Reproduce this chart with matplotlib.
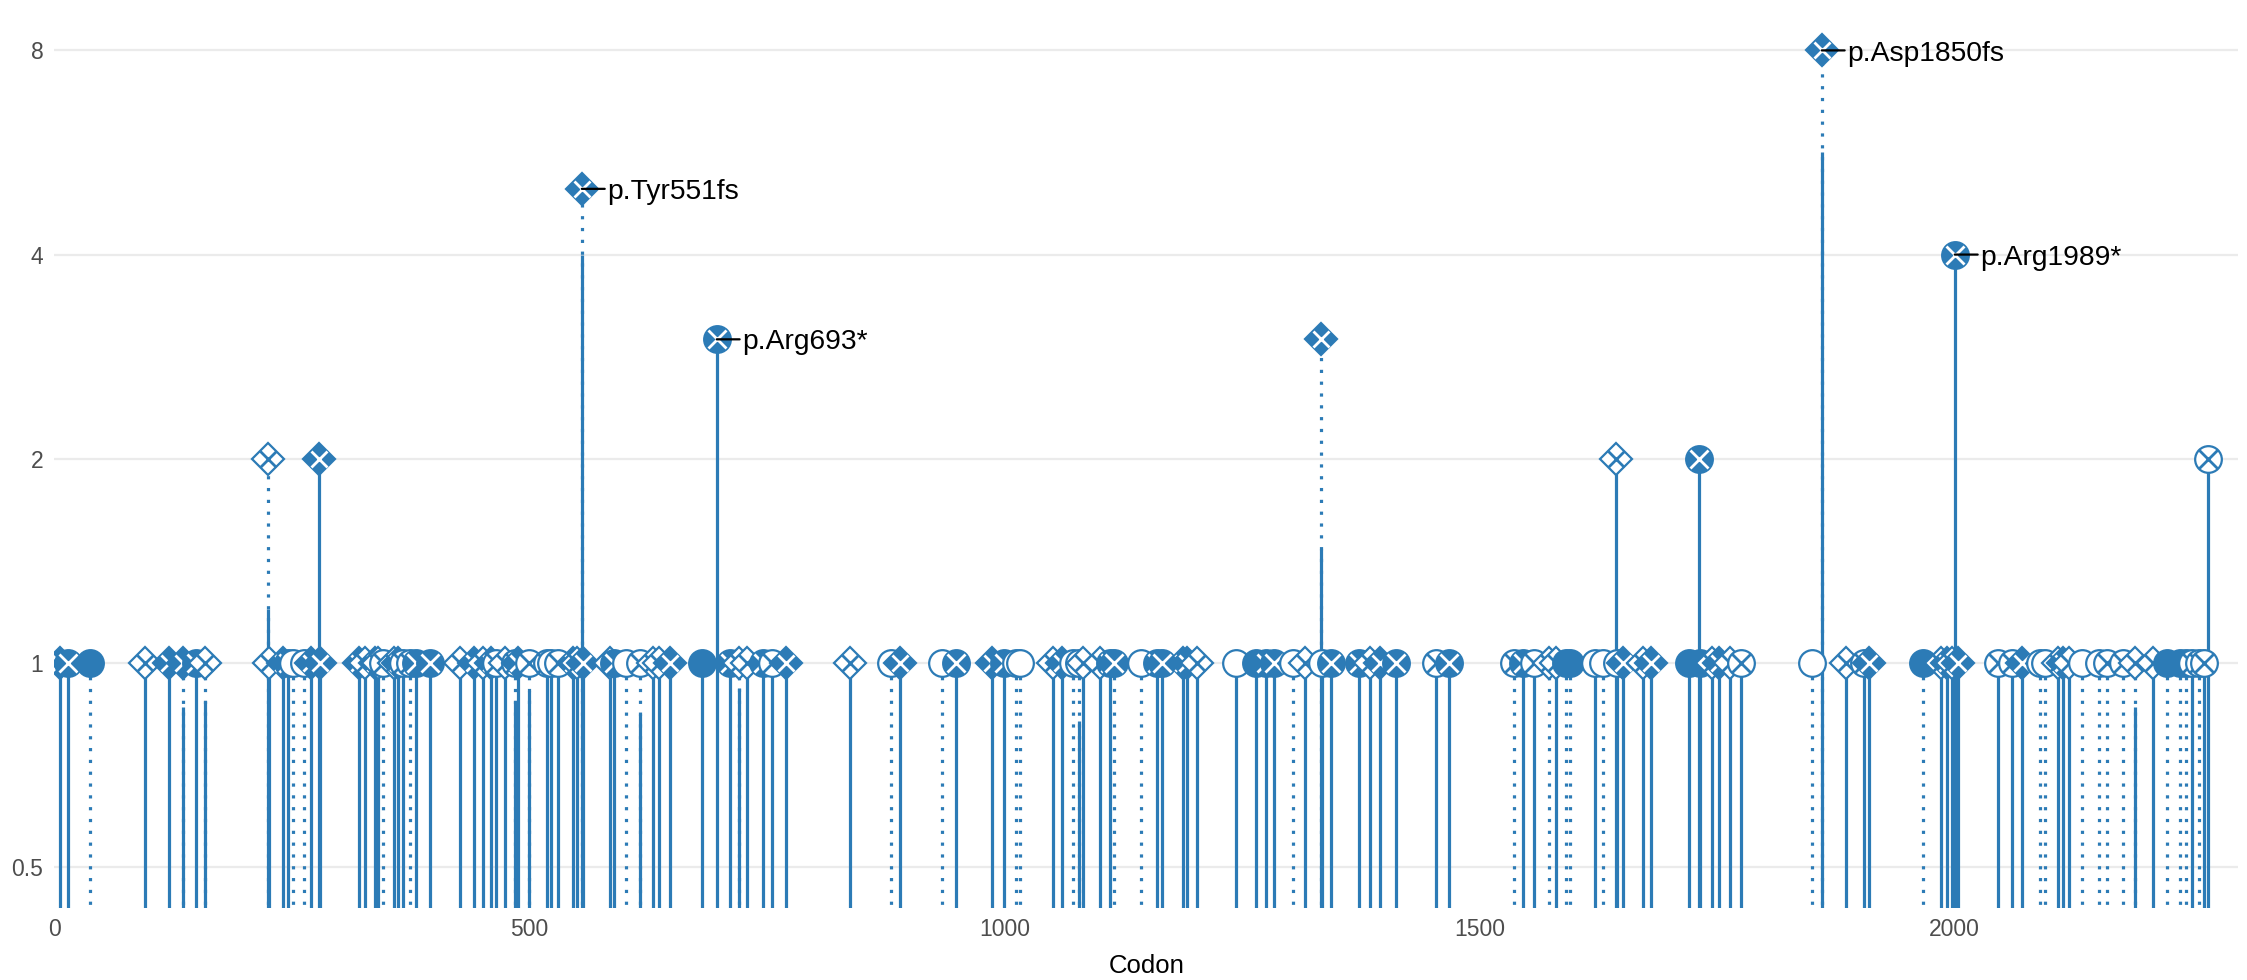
import matplotlib.pyplot as plt
from matplotlib.ticker import NullLocator

plt.rcParams['font.family'] = ['Liberation Sans', 'DejaVu Sans']

# mutations: codon position, count (log2 axis) and marker kind
# kind: DF/DO = filled/open diamond with cross, CF/CO = filled/open circle with cross,
#       cf/co = plain filled/open circle
codon = [6, 14, 37, 95, 120, 135, 149, 158,
         225, 226, 240, 246, 251, 263, 270, 278, 279,
         320, 327, 337, 341, 346, 357, 362, 367, 374, 381, 395,
         427, 442, 451, 459, 465, 474, 485, 488, 499, 518, 523, 530, 546, 550, 556, 555,
         585, 589, 602, 616, 630, 636, 648,
         681, 711, 720, 729, 746, 755, 770, 697,
         837, 880, 890, 934, 949, 987, 999, 1012, 1016, 1051, 1060, 1072, 1078, 1083, 1100, 1111, 1115,
         1144, 1160, 1166, 1188, 1192, 1202, 1244, 1265, 1275, 1283, 1303, 1316, 1334, 1343,
         1373, 1385, 1395, 1412, 1454, 1468, 1333,
         1536, 1546, 1557, 1573, 1580, 1591, 1595, 1621, 1630, 1644, 1651, 1672, 1680,
         1720, 1732, 1744, 1752, 1763, 1775, 1850, 1886, 1643, 1731, 1860,
         1905, 1910, 1967, 1985, 1992, 1997, 2003, 2046, 2060, 2071, 2090, 2095, 2109, 2114, 2120,
         2134, 2152, 2160, 2177, 2190, 2209, 2223, 2237, 2243, 2250, 2257, 2262, 2000, 2267]
count = [1, 1, 1, 1, 1, 1, 1, 1,
         2, 1, 1, 1, 1, 1, 1, 2, 1,
         1, 1, 1, 1, 1, 1, 1, 1, 1, 1, 1,
         1, 1, 1, 1, 1, 1, 1, 1, 1, 1, 1, 1, 1, 1, 1, 5,
         1, 1, 1, 1, 1, 1, 1,
         1, 1, 1, 1, 1, 1, 1, 3,
         1, 1, 1, 1, 1, 1, 1, 1, 1, 1, 1, 1, 1, 1, 1, 1, 1,
         1, 1, 1, 1, 1, 1, 1, 1, 1, 1, 1, 1, 1, 1,
         1, 1, 1, 1, 1, 1, 3,
         1, 1, 1, 1, 1, 1, 1, 1, 1, 1, 1, 1, 1,
         1, 1, 1, 1, 1, 1, 1, 1, 2, 2, 8,
         1, 1, 1, 1, 1, 1, 1, 1, 1, 1, 1, 1, 1, 1, 1,
         1, 1, 1, 1, 1, 1, 1, 1, 1, 1, 1, 1, 4, 2]
kind = ['DF', 'CF', 'cf', 'DO', 'DF', 'DF', 'CF', 'DO',
        'DO', 'DO', 'DF', 'CF', 'co', 'co', 'DF', 'DF', 'DF',
        'DF', 'DO', 'DF', 'DO', 'CO', 'DO', 'DF', 'CO', 'CO', 'CF', 'CF',
        'DO', 'DF', 'DO', 'DF', 'CO', 'DO', 'CO', 'DF', 'CO', 'CO', 'co', 'CO', 'DF', 'DO', 'DF', 'DF',
        'DO', 'CF', 'co', 'CO', 'DO', 'DO', 'DF',
        'cf', 'CF', 'DO', 'DO', 'CF', 'CO', 'DF', 'CF',
        'DO', 'co', 'DF', 'co', 'CF', 'DF', 'CF', 'co', 'co', 'DO', 'DF', 'co', 'co', 'DO', 'DO', 'CF', 'CF',
        'co', 'CF', 'CF', 'DF', 'DF', 'DO', 'co', 'cf', 'CF', 'CF', 'co', 'DO', 'co', 'CF',
        'CF', 'DO', 'DF', 'CF', 'CO', 'CF', 'DF',
        'CO', 'CF', 'CO', 'DO', 'DO', 'cf', 'cf', 'co', 'co', 'co', 'DF', 'DO', 'DF',
        'cf', 'cf', 'DO', 'DF', 'DO', 'CO', 'co', 'DO', 'DO', 'CF', 'DF',
        'CO', 'DF', 'cf', 'DO', 'DF', 'DO', 'DF', 'CO', 'CO', 'DF', 'co', 'co', 'DO', 'DF', 'DO',
        'co', 'co', 'CO', 'CO', 'DO', 'DO', 'cf', 'cf', 'cf', 'CO', 'CO', 'CO', 'CF', 'CO']
# where the solid part of the stem stops (above it the stem is dotted, 0 = dotted all the way)
solid_to = [1, 1, 0, 1, 1, 0.86, 1, 0.88,
            1.2, 1, 1, 1, 0, 0, 1, 2, 1,
            1, 1, 1, 1, 0, 1, 1, 1, 0, 1, 1,
            1, 1, 1, 1, 1, 1, 0.88, 1, 0.91, 1, 1, 1, 1, 1, 1, 4,
            1, 1, 0, 0.84, 1, 1, 1,
            1, 1, 0.92, 1, 1, 1, 1, 3,
            1, 0, 1, 0, 1, 1, 1, 0, 0, 1, 1, 0, 0.82, 1, 1, 1, 0,
            0, 1, 1, 1, 1, 1, 1, 1, 1, 1, 0, 1, 1, 1,
            1, 1, 1, 1, 1, 1, 1.47,
            0, 1, 1, 0, 1, 0, 0, 1, 0, 1, 1, 1, 1,
            1, 1, 1, 1, 1, 1, 0, 1, 2, 2, 5.66,
            1, 1, 0, 1, 1, 1, 1, 1, 1, 1, 0, 0, 1, 1, 1,
            0, 0, 0, 0, 0.86, 1, 0, 0, 0, 1, 0, 1, 4, 2]

labels = ['p.Tyr551fs', 'p.Arg693*', 'p.Asp1850fs', 'p.Arg1989*']
label_codon = [555, 697, 1860, 2000]
label_count = [5, 3, 8, 4]

yticks = [0.5, 1, 2, 4, 8]
ytick_labels = ['0.5', '1', '2', '4', '8']
xticks = [0, 500, 1000, 1500, 2000]

BLUE = '#2c7bb6'
bottom = 2 ** -1.3

fig = plt.figure(figsize=(22.47, 9.8), dpi=100)
ax = fig.add_axes([0.02425, 0.0735, 0.9717, 0.9057])
ax.set_yscale('log', base=2)

# stems
for x, y, s in zip(codon, count, solid_to):
    if s < y:
        ax.plot([x, x], [bottom, y], color=BLUE, lw=2.3, linestyle=(0, (1, 2.7)),
                dash_capstyle='butt', zorder=2)
    if s > 0:
        ax.plot([x, x], [bottom, s], color=BLUE, lw=2.3, solid_capstyle='butt', zorder=2)

# heads: marker, face colour, cross colour
marker_style = {
    'DF': ('D', BLUE, 'white'),
    'DO': ('D', 'white', BLUE),
    'CF': ('o', BLUE, 'white'),
    'CO': ('o', 'white', BLUE),
    'cf': ('o', BLUE, None),
    'co': ('o', 'white', None),
}
for x, y, k in zip(codon, count, kind):
    m, face, cross = marker_style[k]
    size = 16.3 if m == 'D' else 19.2
    ax.plot(x, y, marker=m, ms=size, mfc=face, mec=BLUE, mew=1.6, linestyle='none', zorder=3)
    if cross:
        ax.plot(x, y, marker='x', ms=size * 0.707, mec=cross, mew=2.0, linestyle='none', zorder=3)

# labels for the hotspots
for name, x, y in zip(labels, label_codon, label_count):
    ax.annotate('', xy=(x, y), xytext=(16.5, 0), textcoords='offset points',
                arrowprops=dict(arrowstyle='-', color='black', lw=1.6, shrinkA=0, shrinkB=0),
                zorder=5)
    ax.annotate(name, xy=(x, y), xytext=(18.5, -7.3), textcoords='offset points',
                ha='left', va='baseline', fontsize=20.3, color='black', zorder=5)

ax.set_xlim(0, 2298)
ax.set_ylim(2 ** -1.2, 2 ** 3.147)
ax.set_yticks(yticks)
ax.set_yticklabels(ytick_labels)
ax.yaxis.set_minor_locator(NullLocator())
ax.set_xticks(xticks)
ax.tick_params(length=0, labelsize=16.5, labelcolor='#4d4d4d')
ax.tick_params(axis='y', pad=8)
ax.tick_params(axis='x', pad=7.5)
ax.grid(axis='y', color='#ebebeb', lw=1.6)
ax.set_axisbelow(True)
for sp in ax.spines.values():
    sp.set_visible(False)
ax.set_xlabel('Codon', fontsize=18.5, color='black', labelpad=9)

fig.savefig('out.png', dpi=100)
